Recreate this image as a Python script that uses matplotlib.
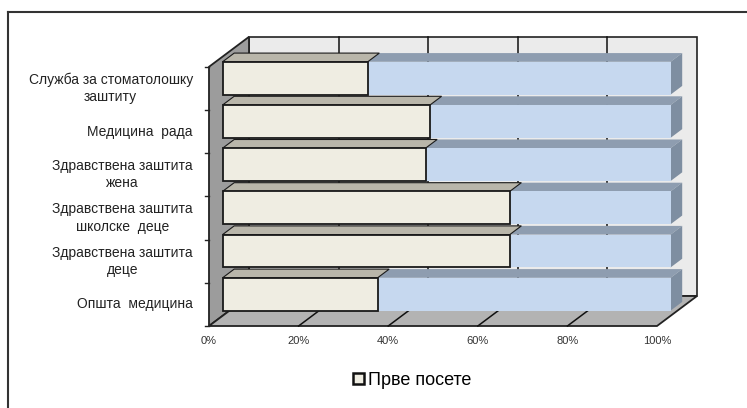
import matplotlib
matplotlib.use('Agg')
import matplotlib.pyplot as plt
from matplotlib.patches import Polygon, Rectangle
from matplotlib.lines import Line2D

plt.rcParams['font.family'] = ['Liberation Sans', 'DejaVu Sans']

# categories, top to bottom as in the chart
categories = ['Служба за стоматолошку\nзаштиту',
              'Медицина  рада',
              'Здравствена заштита\nжена',
              'Здравствена заштита\nшколске  деце',
              'Здравствена заштита\nдеце',
              'Општа  медицина']
prve_posete = [32.4, 46.3, 45.3, 64.1, 64.1, 34.6]
ostale = [67.6, 53.7, 54.7, 35.9, 35.9, 65.4]
xticks = [0, 20, 40, 60, 80, 100]
xtick_labels = ['0%', '20%', '40%', '60%', '80%', '100%']
legend_label = 'Прве посете'

# 3d look
DX = 8.93      # depth offset in x units
DY = 0.694     # depth offset in category units
f0, f1 = 0.34, 0.63   # front / back of bars as depth fraction
bh = 0.76

cream, cream_top = '#efede2', '#b9b6aa'
blue, blue_top, blue_side = '#c6d8ef', '#8e9db0', '#7e8ea1'

fig = plt.figure(figsize=(7.47, 4.08), dpi=100)
ax = fig.add_axes([0, 0, 1, 1])
ax.set_xlim(-46.65, 120.09)
ax.set_ylim(-2.398, 7.046)
ax.axis('off')

n = len(categories)
lo, hi = -0.5, n - 0.5

# walls and floor
ax.add_patch(Polygon([(DX, lo + DY), (100 + DX, lo + DY), (100 + DX, hi + DY), (DX, hi + DY)],
                     closed=True, facecolor='#ebebeb', edgecolor='#222222', lw=1.2, zorder=0.5))
ax.add_patch(Polygon([(0, lo), (DX, lo + DY), (DX, hi + DY), (0, hi)],
                     closed=True, facecolor='#9c9c9c', edgecolor='#222222', lw=1.3, zorder=0.5))
ax.add_patch(Polygon([(0, lo), (100, lo), (100 + DX, lo + DY), (DX, lo + DY)],
                     closed=True, facecolor='#b3b3b3', edgecolor='#222222', lw=1.3, zorder=0.5))

# gridlines on back wall and floor
for v in xticks[1:-1]:
    ax.plot([v + DX, v + DX], [lo + DY, hi + DY], color='#111111', lw=1.1, zorder=0.6)
    ax.plot([v, v + DX], [lo, lo + DY], color='#111111', lw=1.1, zorder=0.6)

# category ticks on left edge
for k in range(n + 1):
    ax.plot([-0.9, 0], [k - 0.5, k - 0.5], color='#222222', lw=1, zorder=0.6)


def bar3d(x0, x1, c, face, top, edge, side=None):
    yb = c - bh / 2
    yt = c + bh / 2
    ax.add_patch(Polygon([(x0 + f0 * DX, yt + f0 * DY), (x1 + f0 * DX, yt + f0 * DY),
                          (x1 + f1 * DX, yt + f1 * DY), (x0 + f1 * DX, yt + f1 * DY)],
                         closed=True, facecolor=top, edgecolor=edge, lw=0.8, zorder=2))
    if side is not None:
        ax.add_patch(Polygon([(x1 + f0 * DX, yb + f0 * DY), (x1 + f1 * DX, yb + f1 * DY),
                              (x1 + f1 * DX, yt + f1 * DY), (x1 + f0 * DX, yt + f0 * DY)],
                             closed=True, facecolor=side, edgecolor='none', zorder=2))
    ax.add_patch(Rectangle((x0 + f0 * DX, yb + f0 * DY), x1 - x0, bh,
                           facecolor=face, edgecolor=edge, lw=1.3 if edge != 'none' else 0,
                           zorder=2))


for i in range(n):
    c = n - 1 - i
    a = prve_posete[i]
    b = ostale[i]
    bar3d(a, a + b, c, blue, blue_top, 'none', side=blue_side)
    bar3d(0, a, c, cream, cream_top, '#1a1a1a')

# labels
for i, lab in enumerate(categories):
    c = n - 1 - i
    ax.text(-3.6, c, lab, ha='right', va='center', multialignment='center',
            fontsize=10, color='#222222', linespacing=1.3)

for v, t in zip(xticks, xtick_labels):
    ax.text(v, -0.85, t, ha='center', va='center', fontsize=8, color='#333333')

handle = Rectangle((0, 0), 1, 1, facecolor=cream, edgecolor='#111111', lw=1.8)
fig.legend([handle], [legend_label], loc='center', bbox_to_anchor=(0.552, 0.068),
           frameon=False, fontsize=13, handlelength=0.6, handleheight=0.6,
           handletextpad=0.2)

# outer frame (top and left)
fig.add_artist(Line2D([7.5 / 747, 1], [1 - 12 / 408, 1 - 12 / 408], color='#333333', lw=1.5))
fig.add_artist(Line2D([7.5 / 747, 7.5 / 747], [0, 1 - 12 / 408], color='#333333', lw=1.5))

fig.savefig('out.png', dpi=100)
